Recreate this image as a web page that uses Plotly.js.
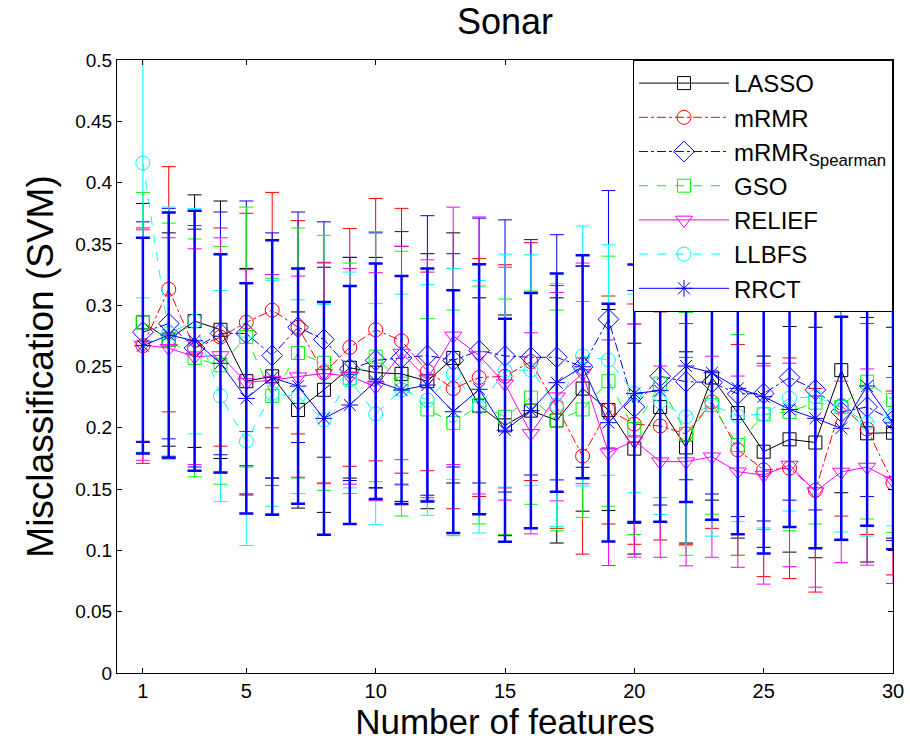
<!DOCTYPE html>
<html>
<head>
<meta charset="utf-8">
<script src="https://cdn.plot.ly/plotly-3.0.1.min.js"></script>
<style>html,body{margin:0;padding:0;background:#fff;}#chart{width:910px;height:746px;}</style>
</head>
<body>
<div id="chart"></div>
<script>
const features = [1,2,3,4,5,6,7,8,9,10,11,12,13,14,15,16,17,18,19,20,21,22,23,24,25,26,27,28,29,30];

const lassoMean = [0.286,0.272,0.287,0.280,0.238,0.242,0.2145,0.231,0.249,0.245,0.244,0.238,0.257,0.218,0.202,0.214,0.206,0.232,0.2145,0.183,0.217,0.184,0.241,0.212,0.1805,0.1906,0.188,0.247,0.1955,0.196];
const lassoErr  = [0.097,0.087,0.103,0.105,0.092,0.083,0.080,0.100,0.090,0.094,0.104,0.104,0.102,0.088,0.090,0.096,0.100,0.100,0.082,0.086,0.094,0.078,0.100,0.102,0.078,0.092,0.094,0.100,0.105,0.086];

const mrmrMean = [0.267,0.313,0.265,0.274,0.286,0.296,0.282,0.245,0.2656,0.280,0.271,0.246,0.232,0.241,0.242,0.254,0.217,0.177,0.2145,0.203,0.2015,0.195,0.221,0.182,0.1656,0.167,0.149,0.218,0.199,0.155];
const mrmrErr  = [0.096,0.100,0.100,0.089,0.089,0.096,0.087,0.090,0.097,0.107,0.108,0.081,0.098,0.097,0.091,0.097,0.099,0.080,0.093,0.098,0.093,0.090,0.103,0.086,0.087,0.090,0.083,0.090,0.086,0.075];

const spearMean = [0.278,0.285,0.265,0.277,0.277,0.259,0.282,0.272,0.248,0.255,0.257,0.259,0.255,0.263,0.2586,0.2575,0.2575,0.2498,0.2885,0.217,0.242,0.2376,0.237,0.2276,0.228,0.241,0.231,0.213,0.217,0.206];
const spearErr  = [0.090,0.094,0.097,0.099,0.108,0.100,0.094,0.096,0.091,0.104,0.103,0.114,0.087,0.108,0.111,0.096,0.100,0.082,0.105,0.095,0.105,0.080,0.091,0.100,0.104,0.100,0.098,0.105,0.073,0.098];

const gsoMean = [0.286,0.272,0.257,0.251,0.274,0.226,0.261,0.253,0.2404,0.258,0.236,0.215,0.204,0.2186,0.209,0.2246,0.206,0.215,0.238,0.199,0.236,0.195,0.2186,0.186,0.211,0.213,0.2205,0.217,0.2376,0.2227];
const gsoErr  = [0.106,0.095,0.097,0.097,0.106,0.096,0.102,0.104,0.094,0.102,0.108,0.074,0.092,0.097,0.096,0.087,0.090,0.088,0.102,0.086,0.093,0.099,0.089,0.090,0.094,0.097,0.099,0.109,0.112,0.108];

const reliefMean = [0.2675,0.265,0.258,0.259,0.237,0.239,0.2417,0.2444,0.242,0.2335,0.261,0.240,0.275,0.259,0.236,0.1955,0.2254,0.2444,0.1797,0.1895,0.1724,0.1724,0.1764,0.1642,0.1615,0.1697,0.148,0.164,0.168,0.157];
const reliefErr  = [0.094,0.090,0.088,0.096,0.092,0.086,0.082,0.090,0.088,0.093,0.087,0.097,0.105,0.113,0.095,0.082,0.085,0.090,0.092,0.095,0.078,0.085,0.082,0.078,0.089,0.083,0.078,0.074,0.080,0.084];

const llbfsMean = [0.416,0.277,0.287,0.226,0.189,0.228,0.2254,0.2064,0.239,0.2113,0.231,0.2227,0.2439,0.2172,0.2466,0.2471,0.2186,0.2586,0.2553,0.228,0.2213,0.209,0.2186,0.2096,0.2113,0.2241,0.2254,0.217,0.2037,0.210];
const llbfsErr  = [0.110,0.103,0.092,0.086,0.085,0.092,0.079,0.094,0.088,0.090,0.078,0.094,0.086,0.103,0.095,0.094,0.099,0.106,0.094,0.081,0.092,0.105,0.107,0.086,0.093,0.092,0.079,0.102,0.092,0.090];

const rrctMean = [0.267,0.2757,0.271,0.2526,0.224,0.241,0.234,0.2077,0.2186,0.238,0.2308,0.2349,0.2131,0.2314,0.198,0.214,0.2368,0.2498,0.2042,0.2281,0.2303,0.2504,0.2449,0.2322,0.2254,0.215,0.2077,0.1996,0.2341,0.204];
const rrctErr  = [0.088,0.100,0.106,0.089,0.094,0.112,0.096,0.095,0.097,0.096,0.093,0.095,0.099,0.102,0.091,0.096,0.089,0.091,0.097,0.105,0.107,0.111,0.120,0.119,0.128,0.096,0.106,0.091,0.114,0.103];

const seriesNames = ['LASSO','mRMR','mRMR<sub>Spearman</sub>','GSO','RELIEF','LLBFS','RRCT'];
const yTickVals = [0,0.05,0.1,0.15,0.2,0.25,0.3,0.35,0.4,0.45,0.5];
const yTickText = ['0','0.05','0.1','0.15','0.2','0.25','0.3','0.35','0.4','0.45','0.5'];
const xTickVals = [1,5,10,15,20,25,30];

const specs = [
  {name:seriesNames[0], y:lassoMean,  e:lassoErr,  color:'#000000', dash:'solid',   symbol:'square-open',   size:13, ew:1},
  {name:seriesNames[1], y:mrmrMean,   e:mrmrErr,   color:'#ff0000', dash:'dashdot', symbol:'circle-open',   size:14, ew:1},
  {name:seriesNames[2], y:spearMean,  e:spearErr,  color:'#0000ff', dash:'dashdot', symbol:'diamond-open',  size:16, ew:1},
  {name:seriesNames[3], y:gsoMean,    e:gsoErr,    color:'#00ff00', dash:'dash',    symbol:'square-open',   size:13, ew:1},
  {name:seriesNames[4], y:reliefMean, e:reliefErr, color:'#ff00ff', dash:'solid',   symbol:'triangle-down-open', size:15, ew:1},
  {name:seriesNames[5], y:llbfsMean,  e:llbfsErr,  color:'#00ffff', dash:'dash',    symbol:'circle-open',   size:14, ew:1},
  {name:seriesNames[6], y:rrctMean,   e:rrctErr,   color:'#0000ff', dash:'solid',   symbol:'asterisk-open', size:14, ew:2.5}
];

const traces = specs.map((s,i) => ({
  type:'scatter', mode:'lines+markers', x:features, y:s.y, name:s.name,
  legendgroup:'g'+i,
  line:{color:s.color, width:1, dash:s.dash},
  marker:{symbol:s.symbol, size:s.size, color:s.color, line:{color:s.color, width:1}},
  error_y:{type:'data', array:s.e, visible:true, color:s.color, thickness:s.ew, width:7}
}));

const font = 'Liberation Sans, Arial, sans-serif';
const layout = {
  width:910, height:746,
  margin:{l:117, r:17, t:60, b:73},
  paper_bgcolor:'#fff', plot_bgcolor:'#fff',
  font:{family:font, color:'#000', size:18},
  title:{text:'Sonar', font:{family:font, size:36, color:'#000'}, x:0.5, xref:'paper', xanchor:'center', y:0.988, yanchor:'top'},
  showlegend:true,
  legend:{x:1, xanchor:'right', y:1, yanchor:'top', bgcolor:'#fff', bordercolor:'#000', borderwidth:1,
          font:{family:font, size:24, color:'#000'}, tracegroupgap:0, itemwidth:90},
  xaxis:{range:[0,30], tickvals:xTickVals, ticks:'inside', ticklen:5, tickcolor:'#000', showgrid:false, zeroline:false,
         showline:true, linecolor:'#000', linewidth:1, mirror:'ticks', tickfont:{size:20, family:font},
         title:{text:'Number of features', font:{family:font, size:35, color:'#000'}, standoff:2}},
  yaxis:{range:[0,0.5], tickvals:yTickVals, ticktext:yTickText, ticks:'inside', ticklen:5, tickcolor:'#000', showgrid:false, zeroline:false,
         showline:true, linecolor:'#000', linewidth:1, mirror:'ticks', tickfont:{size:19, family:font},
         title:{text:'Misclassification (SVM)', font:{family:font, size:37, color:'#000'}, standoff:10}}
};

Plotly.newPlot('chart', traces, layout, {displayModeBar:false, staticPlot:true});
</script>
</body>
</html>
